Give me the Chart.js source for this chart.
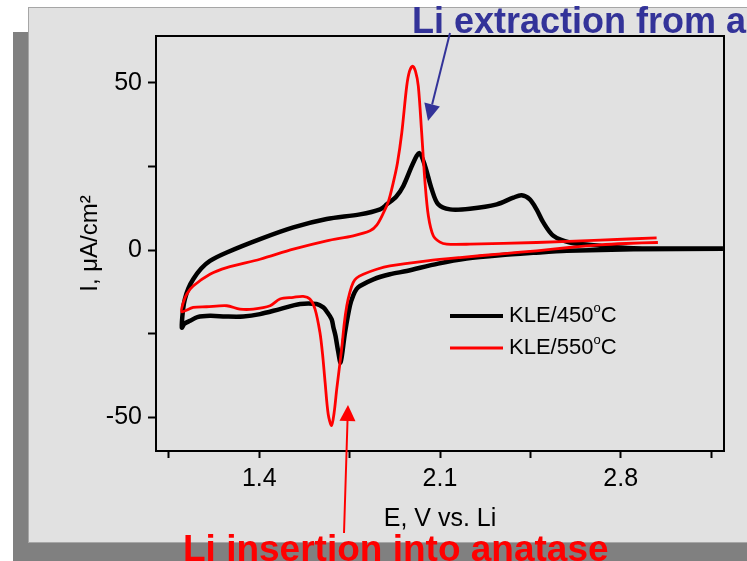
<!DOCTYPE html>
<html>
<head>
<meta charset="utf-8">
<script src="https://cdn.jsdelivr.net/npm/chart.js@4.4.1/dist/chart.umd.min.js"></script>
<style>
  html, body { margin: 0; padding: 0; background: #fff; overflow: hidden; }
  canvas { display: block; }
</style>
</head>
<body>
<canvas id="cv" width="747" height="561"></canvas>
<script>
// KLE/450°C cycle: cathodic sweep 3.2 -> 1.1 V, then anodic back
var e450 = [3.196, 2.849, 2.591, 2.461, 2.332, 2.203, 2.093, 1.971, 1.906, 1.842, 1.79, 1.777, 1.764, 1.751, 1.732, 1.715, 1.705, 1.695, 1.687, 1.68, 1.661, 1.648, 1.622, 1.558, 1.48, 1.403, 1.338, 1.27, 1.209, 1.16, 1.132, 1.11, 1.1,
            1.105, 1.112, 1.125, 1.144, 1.175, 1.209, 1.274, 1.403, 1.532, 1.661, 1.79, 1.868, 1.894, 1.93, 1.958, 1.997, 2.02, 2.042, 2.068, 2.093, 2.139, 2.216, 2.32, 2.384, 2.416, 2.448, 2.474, 2.5, 2.539, 2.603, 2.72, 2.849, 3.196];
var i450 = [0.4, 0.3, -0.2, -0.8, -1.5, -2.5, -4.0, -6.2, -7.2, -8.7, -10.7, -11.6, -13.5, -16.6, -24.6, -33.5, -30, -25.5, -23, -20.6, -18.3, -17.1, -16.1, -16.1, -17.6, -19.1, -19.8, -19.8, -19.6, -20, -21.1, -22, -23.1,
            -17.6, -14.6, -11.5, -8.7, -5.5, -3.2, -0.7, 3.3, 6.8, 9.3, 10.7, 12.2, 13.7, 16, 19.2, 26.2, 29.0, 25.2, 18.2, 13.7, 12.2, 12.4, 13.7, 15.7, 16.4, 15.2, 12.2, 8.3, 4.3, 2.3, 1.3, 0.6, 0.5];

// KLE/550°C cycle: cathodic sweep 2.94 -> 1.1 V, then anodic back
var e550 = [2.944, 2.82, 2.72, 2.6, 2.474, 2.35, 2.177, 2.05, 1.906, 1.855, 1.803, 1.777, 1.764, 1.751, 1.739, 1.729, 1.719, 1.7, 1.69, 1.68, 1.667, 1.655, 1.645, 1.635, 1.616, 1.596, 1.57, 1.532, 1.48, 1.442, 1.377, 1.325, 1.274, 1.196, 1.144, 1.1,
            1.106, 1.12, 1.144, 1.209, 1.274, 1.403, 1.532, 1.661, 1.764, 1.829, 1.855, 1.88, 1.9, 1.919, 1.935, 1.952, 1.971, 1.982, 1.994, 2.005, 2.016, 2.029, 2.042, 2.055, 2.074, 2.1, 2.126, 2.216, 2.474, 2.72, 2.939];
var i550 = [2.3, 2.0, 1.6, 0.8, -0.2, -1.0, -2.2, -3.2, -4.7, -5.7, -7.2, -8.3, -9.6, -12.5, -16.6, -22, -29.6, -41.5, -48.5, -52.4, -49, -39.5, -31, -24.6, -17.6, -14.6, -13.8, -14.1, -14.6, -16.6, -17.6, -17.6, -16.6, -16.9, -17.1, -18.4,
            -15.6, -13, -10.7, -7.2, -5.2, -2.7, 0.3, 2.8, 4.3, 5.8, 7.5, 11, 14.5, 20.2, 26, 35.1, 49, 53.5, 55, 53.5, 49, 35.1, 20.2, 10.2, 4.3, 2.4, 1.8, 1.8, 2.3, 3.0, 3.7];

var seriesNames = ["KLE/450", "KLE/550"];
var seriesColors = ["#000000", "#ff0000"];

var xTicks = [1.05, 1.4, 1.75, 2.1, 2.45, 2.8, 3.15];
var xLabels = [1.4, 2.1, 2.8];
var yTicks = [-50, -25, 0, 25, 50];
var yLabels = [-50, 0, 50];

function pts(xs, ys) {
  return xs.map(function (v, k) { return { x: v, y: ys[k] }; });
}

var FONT = '"Liberation Sans", Arial, sans-serif';

function arrow(c, x1, y1, x2, y2, color, len, half) {
  var a = Math.atan2(y2 - y1, x2 - x1);
  var bx = x2 - len * Math.cos(a), by = y2 - len * Math.sin(a);
  c.strokeStyle = color;
  c.fillStyle = color;
  c.lineWidth = 2;
  c.beginPath();
  c.moveTo(x1, y1);
  c.lineTo(bx, by);
  c.stroke();
  c.beginPath();
  c.moveTo(x2, y2);
  c.lineTo(bx + half * Math.sin(a), by - half * Math.cos(a));
  c.lineTo(bx - half * Math.sin(a), by + half * Math.cos(a));
  c.closePath();
  c.fill();
}

var decor = {
  id: 'decor',
  beforeDraw: function (chart) {
    var c = chart.ctx;
    c.save();
    c.fillStyle = '#ffffff';
    c.fillRect(0, 0, 747, 561);
    c.fillStyle = '#808080';
    c.fillRect(13, 32, 734, 529);
    c.fillStyle = '#e1e1e1';
    c.fillRect(28, 8, 719, 535);
    c.strokeStyle = '#a6a6a6';
    c.lineWidth = 1;
    c.strokeRect(28.5, 7.5, 730, 535);
    c.restore();
  },
  afterDraw: function (chart) {
    var c = chart.ctx, a = chart.chartArea;
    c.save();
    // frame
    c.strokeStyle = '#000';
    c.lineWidth = 2;
    c.strokeRect(a.left, a.top, a.right - a.left, a.bottom - a.top);

    // legend
    var ly = [316, 348];
    for (var k = 0; k < 2; k++) {
      c.strokeStyle = seriesColors[k];
      c.lineWidth = k === 0 ? 4 : 3;
      c.beginPath();
      c.moveTo(450, ly[k]);
      c.lineTo(503, ly[k]);
      c.stroke();
      c.fillStyle = '#000';
      c.textBaseline = 'middle';
      c.font = '22px ' + FONT;
      c.fillText(seriesNames[k], 509, ly[k]);
      var w = c.measureText(seriesNames[k]).width;
      c.font = '13px ' + FONT;
      c.fillText('o', 509 + w, ly[k] - 8);
      var w2 = c.measureText('o').width;
      c.font = '22px ' + FONT;
      c.fillText('C', 509 + w + w2, ly[k]);
    }

    // annotations
    c.textBaseline = 'alphabetic';
    c.font = 'bold 36px ' + FONT;
    c.fillStyle = '#333399';
    c.fillText('Li extraction from anatase', 412, 33);
    arrow(c, 450, 33, 428, 121, '#333399', 17, 8);

    arrow(c, 344, 533, 348, 405, '#ff0000', 16, 8);
    c.fillStyle = '#ff0000';
    c.font = 'bold 37px ' + FONT;
    c.fillText('Li insertion into anatase', 183, 561);
    c.restore();
  }
};

new Chart(document.getElementById('cv'), {
  type: 'scatter',
  data: {
    datasets: [
      {
        label: 'KLE/450°C',
        data: pts(e450, i450),
        showLine: true,
        borderColor: seriesColors[0],
        borderWidth: 4.5,
        pointRadius: 0,
        tension: 0.3,
        order: 2
      },
      {
        label: 'KLE/550°C',
        data: pts(e550, i550),
        showLine: true,
        borderColor: seriesColors[1],
        borderWidth: 2.8,
        pointRadius: 0,
        tension: 0.3,
        order: 1
      }
    ]
  },
  options: {
    responsive: false,
    animation: false,
    devicePixelRatio: 1,
    layout: { padding: { left: 0, top: 36, right: 23, bottom: 0 } },
    plugins: { legend: { display: false }, tooltip: { enabled: false } },
    scales: {
      x: {
        type: 'linear',
        min: 1.0,
        max: 3.2,
        afterBuildTicks: function (s) { s.ticks = xTicks.map(function (v) { return { value: v }; }); },
        afterFit: function (s) { s.height = 110; },
        grid: { drawOnChartArea: false, drawTicks: true, tickLength: 7, tickColor: '#000', tickWidth: 2 },
        border: { display: true, color: '#000', width: 2 },
        ticks: {
          autoSkip: false,
          maxRotation: 0,
          padding: 6,
          color: '#000',
          font: { family: FONT, size: 25 },
          callback: function (v) { return xLabels.indexOf(v) >= 0 ? String(v) : ''; }
        },
        title: {
          display: true,
          text: 'E, V vs. Li',
          color: '#000',
          font: { family: FONT, size: 25 },
          padding: { top: 0, bottom: 27 }
        }
      },
      y: {
        type: 'linear',
        min: -60,
        max: 64,
        afterBuildTicks: function (s) { s.ticks = yTicks.map(function (v) { return { value: v }; }); },
        afterFit: function (s) { s.width = 156; },
        grid: { drawOnChartArea: false, drawTicks: true, tickLength: 8, tickColor: '#000', tickWidth: 2 },
        border: { display: true, color: '#000', width: 2 },
        ticks: {
          autoSkip: false,
          padding: 6,
          color: '#000',
          font: { family: FONT, size: 25 },
          callback: function (v) { return yLabels.indexOf(v) >= 0 ? String(v) : ''; }
        },
        title: {
          display: true,
          text: 'I, μA/cm²',
          color: '#000',
          font: { family: FONT, size: 24 },
          padding: { top: 76, bottom: 0 }
        }
      }
    }
  },
  plugins: [decor]
});
</script>
</body>
</html>
